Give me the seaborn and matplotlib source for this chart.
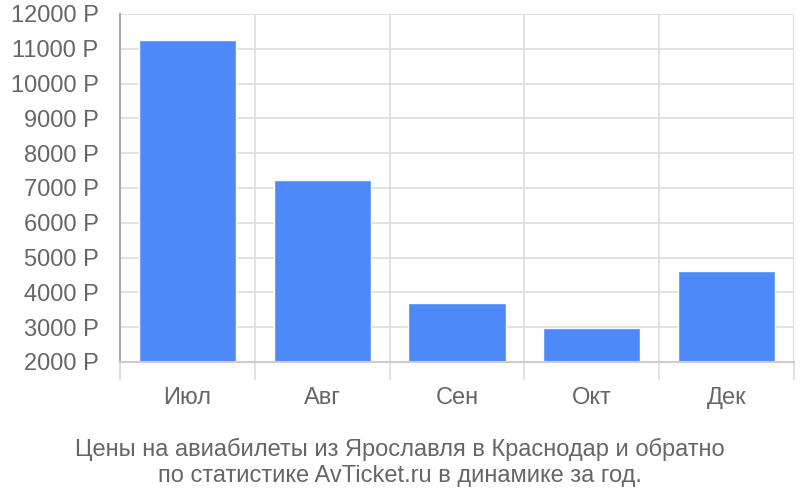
import numpy as np
import pandas as pd
import matplotlib
matplotlib.use('Agg')
import matplotlib.pyplot as plt
import seaborn as sns

# Data
months = ['Июл', 'Авг', 'Сен', 'Окт', 'Дек']
prices = [11260, 7225, 3695, 2985, 4605]
y_ticks = list(range(2000, 12001, 1000))
title = ('Цены на авиабилеты из Ярославля в Краснодар и обратно\n'
         'по статистике AvTicket.ru в динамике за год.')

df = pd.DataFrame({'month': months, 'price': prices})

sns.set_style('white')
plt.rcParams['font.family'] = ['Liberation Sans', 'DejaVu Sans']

text_color = '#666666'
grid_color = '#dddddd'
axis_color = '#aaaaaa'
fs = 17

fig = plt.figure(figsize=(8, 5), dpi=100)
ax = fig.add_axes([0.15, 0.276, 0.8425, 0.696])

sns.barplot(data=df, x='month', y='price', color='#4d89f9',
            width=0.72, saturation=1, ax=ax, zorder=3)

ax.set_xlim(-0.5, len(months) - 0.5)
ax.set_ylim(2000, 12000)

# y ticks
ax.set_yticks(y_ticks)
ax.set_yticklabels([f'{v} Р' for v in y_ticks])
ax.yaxis.grid(True, color=grid_color, linewidth=1.2, zorder=0)
ax.tick_params(axis='y', left=False, length=0, pad=15.5, labelsize=fs,
               labelcolor=text_color)

# x: boundary ticks as gridlines + long ticks, labels at centres
bounds = np.arange(-0.5, len(months), 1.0)
ax.set_xticks(bounds)
ax.set_xticklabels([''] * len(bounds))
ax.set_xticks(range(len(months)), minor=True)
ax.set_xticklabels(months, minor=True)
ax.xaxis.grid(True, which='major', color=grid_color, linewidth=1.2, zorder=0)
ax.tick_params(axis='x', which='major', bottom=True, length=13, width=1.2,
               color=grid_color)
ax.tick_params(axis='x', which='minor', bottom=True, length=0, pad=18,
               labelsize=fs, labelcolor=text_color)
ticks = ax.xaxis.get_major_ticks()
ticks[0].tick1line.set_color(axis_color)
ticks[0].tick1line.set_markeredgewidth(1.5)
ax.set_xlabel('')
ax.set_ylabel('')

for side in ['top', 'right']:
    ax.spines[side].set_visible(False)
ax.spines['left'].set_color(axis_color)
ax.spines['left'].set_linewidth(1.5)
ax.spines['bottom'].set_color('#cccccc')
ax.spines['bottom'].set_linewidth(1.5)
ax.spines['bottom'].set_zorder(4)

fig.text(0.5, 0.075, title, ha='center', va='center', fontsize=fs,
         color=text_color, linespacing=1.2)

fig.savefig('out.png', dpi=100)
